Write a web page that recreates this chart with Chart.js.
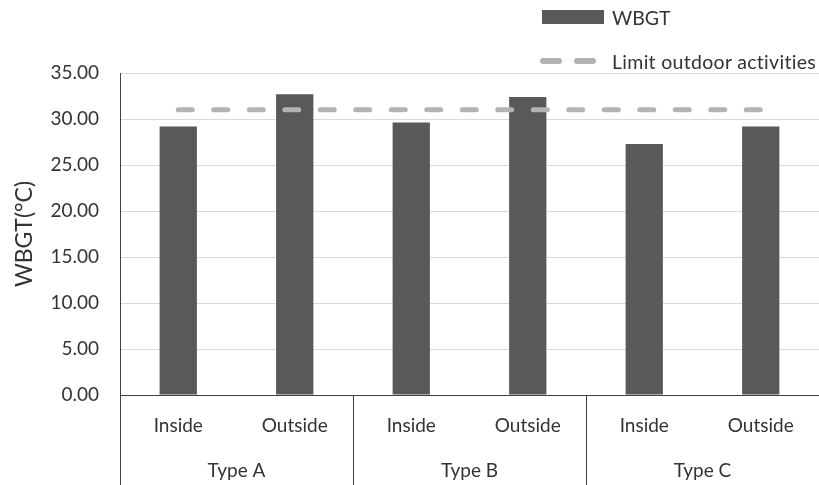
<!DOCTYPE html>
<html>
<head>
<meta charset="utf-8">
<script src="https://cdn.jsdelivr.net/npm/chart.js@4.4.1/dist/chart.umd.min.js"></script>
<style>
  html, body { margin: 0; padding: 0; background: #fff; }
  #wrap { position: relative; width: 819px; height: 485px; font-family: Lato, sans-serif; color: #333; }
  #chart { position: absolute; left: 0; top: 0; }
  .legend-row { position: absolute; display: flex; align-items: center; font-size: 19.5px; white-space: nowrap; }
  .swatch-bar { width: 62px; height: 14px; background: #595959; margin-right: 8px; }
  .swatch-dash { width: 22px; height: 6px; border-radius: 3px; background: #b3b3b3; }
</style>
</head>
<body>
<div id="wrap">
  <canvas id="chart" width="819" height="485"></canvas>
  <div class="legend-row" id="leg-bar" style="left:542px; top:5px; height:24px;">
    <span class="swatch-bar"></span><span id="leg-bar-text"></span>
  </div>
  <div class="legend-row" id="leg-line" style="left:540px; top:49px; height:24px;">
    <span class="swatch-dash"></span><span class="swatch-dash" style="margin-left:12px; margin-right:16px;"></span><span id="leg-line-text" style="letter-spacing:0.3px;"></span>
  </div>
</div>
<script>
// --- DATA ---
const subLabels = ["Inside", "Outside", "Inside", "Outside", "Inside", "Outside"];
const groupLabels = ["Type A", "Type B", "Type C"];
const wbgtValues = [29.19, 32.68, 29.63, 32.39, 27.28, 29.19];
const limitValues = [31.0, 31.0, 31.0, 31.0, 31.0, 31.0];
const barLabel = "WBGT";
const lineLabel = "Limit outdoor activities";
const yTitle = "WBGT(°C)";

document.getElementById("leg-bar-text").innerText = barLabel;
document.getElementById("leg-line-text").innerText = lineLabel;

const TEXT = '#333333';
const FONT = { family: 'Lato, sans-serif', size: 19 };

// vertical separators between the category groups, drawn from the scale
const groupSeparators = {
    id: 'groupSeparators',
    afterDraw(chart) {
        const x2 = chart.scales.x2;
        const ctx = chart.ctx;
        const step = (x2.right - x2.left) / groupLabels.length;
        ctx.save();
        ctx.strokeStyle = '#404040';
        ctx.lineWidth = 1;
        for (let i = 0; i <= groupLabels.length; i++) {
            const px = Math.round(x2.left + i * step) + 0.5;
            ctx.beginPath();
            ctx.moveTo(px, chart.chartArea.bottom);
            ctx.lineTo(px, chart.height);
            ctx.stroke();
        }
        ctx.restore();
    }
};

const chart = new Chart(document.getElementById("chart"), {
    data: {
        labels: subLabels,
        datasets: [
            {
                type: 'line',
                label: lineLabel,
                data: limitValues,
                borderColor: '#b3b3b3',
                borderWidth: 5,
                borderDash: [14, 21.5],
                borderCapStyle: 'round',
                pointRadius: 0,
                fill: false,
                order: 0
            },
            {
                type: 'bar',
                label: barLabel,
                data: wbgtValues,
                backgroundColor: '#595959',
                barPercentage: 0.32,
                categoryPercentage: 1.0,
                order: 1
            }
        ]
    },
    options: {
        animation: false,
        responsive: false,
        layout: { padding: { top: 73, right: 0, bottom: 0, left: 0 } },
        plugins: {
            legend: { display: false },
            tooltip: { enabled: false }
        },
        scales: {
            x: {
                type: 'category',
                position: 'bottom',
                grid: { display: false, drawTicks: false },
                border: { display: true, color: '#404040', width: 1 },
                ticks: { color: TEXT, font: FONT, padding: 19, maxRotation: 0 },
                afterFit: s => { s.height = 45; }
            },
            x2: {
                type: 'category',
                position: 'bottom',
                labels: groupLabels,
                offset: true,
                grid: { display: false, drawTicks: false },
                border: { display: false },
                ticks: { color: TEXT, font: FONT, padding: 19, maxRotation: 0 },
                afterFit: s => { s.height = 45; }
            },
            y: {
                min: 0,
                max: 35,
                ticks: {
                    stepSize: 5,
                    color: TEXT,
                    font: FONT,
                    padding: 21,
                    callback: v => v.toFixed(2)
                },
                grid: { color: '#d9d9d9', drawTicks: false },
                border: { display: true, color: '#404040', width: 1 },
                title: {
                    display: true,
                    text: yTitle,
                    color: TEXT,
                    font: { family: 'Lato, sans-serif', size: 23 },
                    padding: { top: 11, bottom: 0 }
                },
                afterFit: s => { s.width = 120; }
            }
        }
    },
    plugins: [groupSeparators]
});
</script>
</body>
</html>
